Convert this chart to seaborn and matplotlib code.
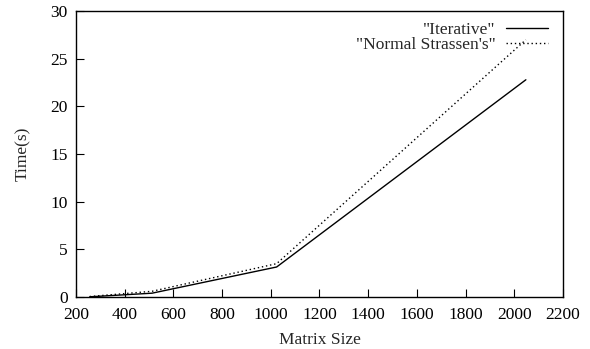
import matplotlib
matplotlib.use("Agg")
import matplotlib.pyplot as plt
import seaborn as sns
import pandas as pd
from matplotlib.lines import Line2D

sizes = [256, 512, 1024, 2048]
iterative = [0.02, 0.4, 3.15, 22.8]
strassen = [0.05, 0.6, 3.5, 27.0]
series_names = ['"Iterative"', '"Normal Strassen\'s"']

sns.set_theme(style="white")
plt.rcParams['font.family'] = ['Liberation Serif', 'DejaVu Serif']
FS = 12.5
plt.rcParams['font.size'] = FS

df = pd.DataFrame({
    "Matrix Size": sizes * 2,
    "Time(s)": iterative + strassen,
    "series": [series_names[0]] * len(sizes) + [series_names[1]] * len(sizes),
})

fig, ax = plt.subplots(figsize=(5.9, 3.49), dpi=100)
fig.subplots_adjust(left=0.129, right=0.954, top=0.968, bottom=0.149)

sns.lineplot(data=df, x="Matrix Size", y="Time(s)", hue="series", style="series",
             palette=["black", "black"], dashes=[(None, None), (1, 2)],
             linewidth=1.0, ax=ax, legend=False)

handles = [Line2D([], [], color="black", lw=1.0),
           Line2D([], [], color="black", lw=1.0, linestyle=(0, (1, 2)))]
leg = ax.legend(handles, series_names, loc="upper right", frameon=False,
                bbox_to_anchor=(0.99, 1.0),
                markerfirst=False, fontsize=FS, handlelength=2.4,
                borderaxespad=0.5, borderpad=0.1, labelspacing=-0.05,
                handletextpad=0.6)
for t in leg.get_texts():
    t.set_ha("right")
leg._legend_box.align = "right"

ax.set_xlim(200, 2200)
ax.set_ylim(0, 30)
ax.set_xticks(range(200, 2201, 200))
ax.set_yticks(range(0, 31, 5))
ax.tick_params(direction="in", length=6, width=0.8, labelsize=FS,
               top=False, right=False, bottom=True, left=True, colors="black")
ax.tick_params(axis="x", pad=7)
ax.tick_params(axis="y", pad=6)
for s in ax.spines.values():
    s.set_color("black")
    s.set_linewidth(1.0)
ax.set_xlabel("Matrix Size", fontsize=FS, labelpad=7)
ax.set_ylabel("Time(s)", fontsize=FS, labelpad=14)
ax.grid(False)

fig.savefig("out.png", dpi=100)
